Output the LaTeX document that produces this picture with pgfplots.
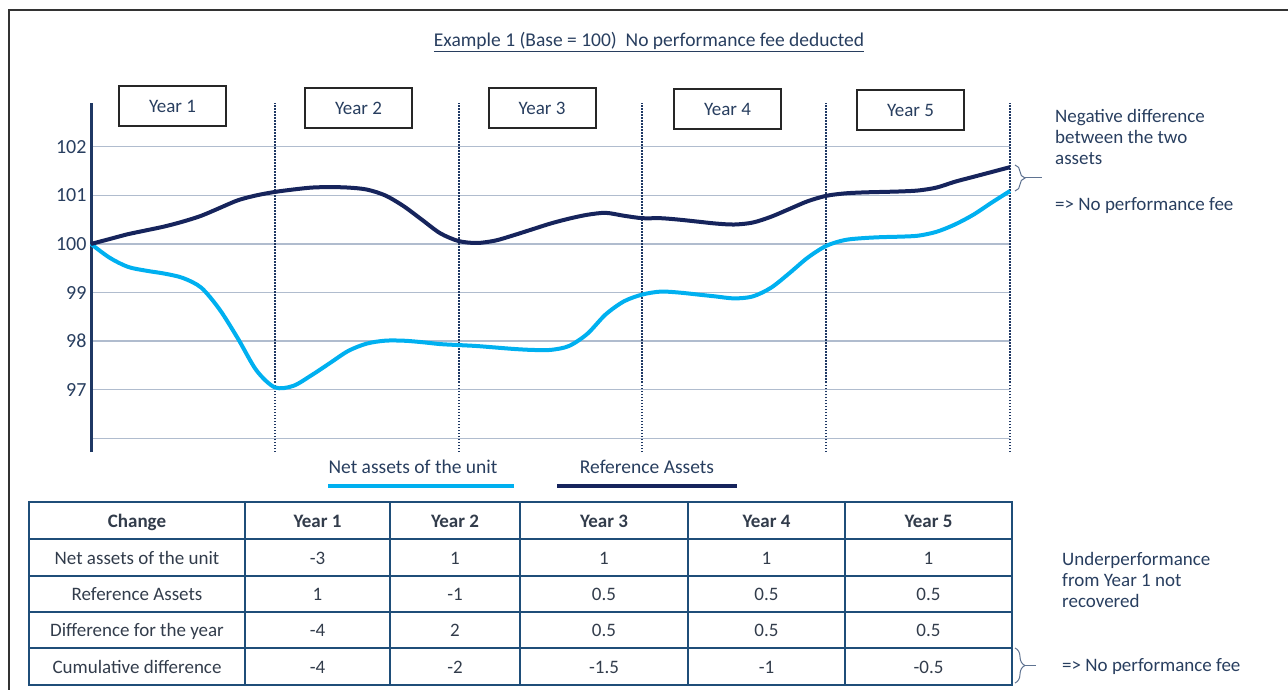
\documentclass[border=0pt]{standalone}
\usepackage{pgfplots}
\pgfplotsset{compat=1.18}
\usepackage{fontspec}
\setmainfont{Carlito}
\usetikzlibrary{decorations.pathreplacing}
\definecolor{navy}{RGB}{22,36,92}
\definecolor{lblue}{RGB}{0,176,240}
\definecolor{txt}{RGB}{40,62,95}
\definecolor{tbl}{RGB}{31,78,121}
\definecolor{tbltxt}{RGB}{50,60,75}
\definecolor{gridc}{RGB}{176,188,206}
\definecolor{dots}{RGB}{31,56,100}
\definecolor{bracec}{RGB}{95,115,145}

\pgfplotstableread{
x y
0.0 100.00
0.1 100.10
0.2 100.20
0.3 100.28
0.4 100.36
0.5 100.46
0.6 100.58
0.7 100.74
0.8 100.90
0.9 101.00
1.0 101.07
1.1 101.12
1.2 101.16
1.3 101.17
1.4 101.16
1.5 101.12
1.6 101.00
1.7 100.78
1.8 100.50
1.9 100.22
2.0 100.06
2.1 100.02
2.2 100.07
2.3 100.18
2.4 100.30
2.5 100.42
2.6 100.52
2.7 100.60
2.8 100.64
2.9 100.58
3.0 100.53
3.1 100.53
3.2 100.50
3.3 100.46
3.4 100.42
3.5 100.40
3.6 100.44
3.7 100.56
3.8 100.72
3.9 100.88
4.0 100.99
4.1 101.04
4.2 101.06
4.3 101.07
4.4 101.08
4.5 101.10
4.6 101.16
4.7 101.28
4.8 101.38
4.9 101.48
5.0 101.58
}\refassets

\pgfplotstableread{
x y
0.0 100.00
0.1 99.72
0.2 99.53
0.3 99.45
0.4 99.39
0.5 99.30
0.6 99.10
0.7 98.65
0.8 98.05
0.9 97.40
1.0 97.05
1.1 97.08
1.2 97.30
1.3 97.55
1.4 97.80
1.5 97.95
1.6 98.01
1.7 98.01
1.8 97.98
1.9 97.94
2.0 97.92
2.1 97.90
2.2 97.87
2.3 97.84
2.4 97.82
2.5 97.82
2.6 97.90
2.7 98.15
2.8 98.55
2.9 98.82
3.0 98.96
3.1 99.02
3.2 99.00
3.3 98.96
3.4 98.92
3.5 98.88
3.6 98.92
3.7 99.10
3.8 99.40
3.9 99.72
4.0 99.96
4.1 100.08
4.2 100.12
4.3 100.14
4.4 100.15
4.5 100.17
4.6 100.25
4.7 100.40
4.8 100.60
4.9 100.85
5.0 101.09
}\netassets

\begin{document}
\begin{tikzpicture}[x=1pt,y=1pt]
\useasboundingbox (0,0) rectangle (1288,689);
% frame
\draw[black!80, line width=2.5pt] (9,-2) -- (9,679) -- (1292,679);
% title
\node[text=txt, font=\fontsize{19.5}{22}\selectfont] at (649,647) {\underline{Example 1 (Base = 100)\ \ No performance fee deducted}};

% year boxes
\tikzset{ybox/.style={draw=black!85, line width=2pt, minimum width=107pt, minimum height=40pt, inner sep=0pt, text=txt, font=\fontsize{19}{22}\selectfont}}
\node[ybox] at (172.5,583) {Year 1};
\node[ybox] at (358.5,581) {Year 2};
\node[ybox] at (542,581) {Year 3};
\node[ybox] at (727.5,580) {Year 4};
\node[ybox] at (910.5,579) {Year 5};

\begin{axis}[
  at={(91pt,237pt)}, anchor=south west, scale only axis,
  width=919pt, height=349pt,
  xmin=0, xmax=5, ymin=95.72, ymax=102.9,
  axis lines=left,
  x axis line style={draw=none},
  y axis line style={-, draw=dots, line width=3pt},
  xtick=\empty,
  ytick={96,97,98,99,100,101,102},
  yticklabels={,97,98,99,100,101,102},
  major tick length=0pt,
  yticklabel style={xshift=-1pt},
  ymajorgrids,
  grid style={gridc, line width=1.4pt},
  tick label style={font=\fontsize{20}{20}\selectfont, text=txt},
  clip=false,
]
\pgfplotsinvokeforeach{1,2,3,4,5}{
  \draw[dots, line width=2pt, dash pattern=on 1.5pt off 1.5pt] (axis cs:#1,95.72) -- (axis cs:#1,102.9);
}
\addplot[lblue, line width=4pt, smooth, tension=0.5, line join=round] table[x=x,y=y] {\netassets};
\addplot[navy, line width=4pt, smooth, tension=0.5, line join=round] table[x=x,y=y] {\refassets};
\end{axis}

% legend
\node[text=txt, font=\fontsize{19.5}{22}\selectfont] at (413,222) {Net assets of the unit};
\draw[lblue, line width=4pt] (328,203) -- (514,203);
\node[text=txt, font=\fontsize{19.5}{22}\selectfont] at (647,222) {Reference Assets};
\draw[navy, line width=4pt] (557,203) -- (737,203);

% table
\draw[tbl, line width=2.5pt] (29,4) rectangle (1012,187);
\foreach \yy in {150,113,77,41} {\draw[tbl, line width=2.5pt] (29,\yy) -- (1012,\yy);}
\foreach \xx in {245,390,520,688,845} {\draw[tbl, line width=2.5pt] (\xx,4) -- (\xx,187);}
\tikzset{tc/.style={text=tbltxt, font=\fontsize{19}{22}\selectfont, anchor=base}}
% header
\node[tc, font=\fontsize{19}{22}\selectfont\bfseries] at (137,162) {Change};
\node[tc, font=\fontsize{19}{22}\selectfont\bfseries] at (317.5,162) {Year 1};
\node[tc, font=\fontsize{19}{22}\selectfont\bfseries] at (455,162) {Year 2};
\node[tc, font=\fontsize{19}{22}\selectfont\bfseries] at (604,162) {Year 3};
\node[tc, font=\fontsize{19}{22}\selectfont\bfseries] at (766.5,162) {Year 4};
\node[tc, font=\fontsize{19}{22}\selectfont\bfseries] at (928.5,162) {Year 5};
% rows
\node[tc] at (137,125) {Net assets of the unit};
\node[tc] at (317.5,125) {-3};
\node[tc] at (455,125) {1};
\node[tc] at (604,125) {1};
\node[tc] at (766.5,125) {1};
\node[tc] at (928.5,125) {1};
\node[tc] at (137,89) {Reference Assets};
\node[tc] at (317.5,89) {1};
\node[tc] at (455,89) {-1};
\node[tc] at (604,89) {0.5};
\node[tc] at (766.5,89) {0.5};
\node[tc] at (928.5,89) {0.5};
\node[tc] at (137,53) {Difference for the year};
\node[tc] at (317.5,53) {-4};
\node[tc] at (455,53) {2};
\node[tc] at (604,53) {0.5};
\node[tc] at (766.5,53) {0.5};
\node[tc] at (928.5,53) {0.5};
\node[tc] at (137,16) {Cumulative difference};
\node[tc] at (317.5,16) {-4};
\node[tc] at (455,16) {-2};
\node[tc] at (604,16) {-1.5};
\node[tc] at (766.5,16) {-1};
\node[tc] at (928.5,16) {-0.5};

% right annotations
\tikzset{ann/.style={text=txt, font=\fontsize{19}{22}\selectfont, anchor=base west, inner sep=0pt}}
\node[ann] at (1055,566) {Negative difference};
\node[ann] at (1055,545) {between the two};
\node[ann] at (1055,524) {assets};
\node[ann] at (1055,478) {=> No performance fee};
\node[ann] at (1062,124) {Underperformance};
\node[ann] at (1062,103) {from Year 1 not};
\node[ann] at (1062,82) {recovered};
\node[ann] at (1062,18) {=> No performance fee};

% braces
\draw[bracec, line width=1pt, decorate, decoration={brace, amplitude=10pt}] (1015,524) -- (1015,498);
\draw[bracec, line width=1pt] (1025,511) -- (1042,511);
\draw[bracec, line width=1pt, decorate, decoration={brace, amplitude=10pt}] (1015,41) -- (1015,6);
\draw[bracec, line width=1pt] (1025,23.5) -- (1036,23.5);
\end{tikzpicture}
\end{document}
